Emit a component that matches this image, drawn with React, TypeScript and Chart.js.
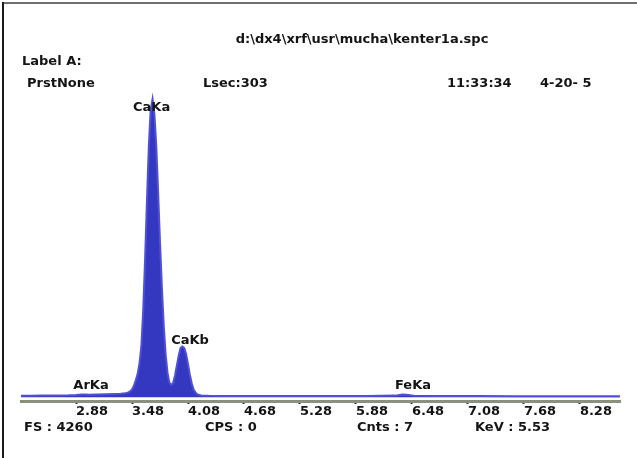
import React, { useEffect, useRef } from "react";
import { Chart, registerables } from "chart.js";

Chart.register(...registerables);

// Spectrum (energy in keV, counts)
const energyKeV = [
  2.29, 2.4, 2.5, 2.6, 2.7, 2.8, 2.88, 2.94, 2.98, 3.02, 3.1, 3.2, 3.3, 3.36,
  3.4, 3.42, 3.44, 3.46, 3.48, 3.5, 3.52, 3.54, 3.56, 3.58, 3.6, 3.62, 3.64,
  3.66, 3.68, 3.7, 3.72, 3.74, 3.76, 3.78, 3.8, 3.82, 3.84, 3.86, 3.88, 3.9,
  3.92, 3.94, 3.96, 3.98, 4.0, 4.02, 4.04, 4.06, 4.08, 4.1, 4.12, 4.14, 4.16,
  4.18, 4.22, 4.3, 4.5, 4.8, 5.2, 5.6, 6.0, 6.3, 6.38, 6.42, 6.5, 6.8, 7.2,
  7.6, 8.0, 8.4, 8.71,
];
const counts = [
  18, 18, 20, 20, 22, 24, 28, 34, 36, 32, 34, 38, 42, 46,
  50, 55, 62, 75, 100, 150, 220, 300, 440, 660, 1140, 1800, 2560,
  3270, 3740, 3880, 3680, 3270, 2660, 2010, 1430, 930, 560, 320, 190, 160,
  180, 280, 410, 540, 640, 660, 640, 560, 430, 290, 180, 100, 60,
  35, 22, 18, 16, 15, 15, 14, 15, 20, 34, 30, 18, 14, 14,
  13, 13, 12, 12,
];

const tickValues = [2.88, 3.48, 4.08, 4.68, 5.28, 5.88, 6.48, 7.08, 7.68, 8.28];
const tickLabels = ["2.88", "3.48", "4.08", "4.68", "5.28", "5.88", "6.48", "7.08", "7.68", "8.28"];

const peakNames = ["ArKa", "CaKa", "CaKb", "FeKa"];
const peakEnergies = [2.96, 3.69, 4.01, 6.4];

const fileTitle = "d:\\dx4\\xrf\\usr\\mucha\\kenter1a.spc";
const labelLine = "Label A:";
const infoTexts = ["PrstNone", "Lsec:303", "11:33:34", "4-20- 5"];
const statusTexts = ["FS : 4260", "CPS : 0", "Cnts : 7", "KeV : 5.53"];

const FAMILY = '"DejaVu Sans", "Liberation Sans", sans-serif';
const FONT = `bold 13px ${FAMILY}`;

const overlayPlugin = {
  id: "overlay",
  beforeDraw(chart: any) {
    const ctx = chart.ctx;
    ctx.save();
    ctx.fillStyle = "#ffffff";
    ctx.fillRect(0, 0, chart.width, chart.height);
    ctx.fillStyle = "#707070";
    ctx.fillRect(2, 2, chart.width - 2, 2);
    ctx.fillStyle = "#1a1a1a";
    ctx.fillRect(2, 2, 2, chart.height - 2);
    ctx.restore();
  },
  afterDraw(chart: any) {
    const ctx = chart.ctx;
    const xs = chart.scales.x;
    ctx.save();
    ctx.font = FONT;
    ctx.fillStyle = "#141414";
    ctx.textBaseline = "middle";

    ctx.textAlign = "center";
    ctx.fillText(fileTitle, 362, 40);

    ctx.textAlign = "left";
    ctx.fillText(labelLine, 22, 62);
    const infoX = [27, 203, 447, 540];
    infoTexts.forEach((t, i) => ctx.fillText(t, infoX[i], 84));
    const statusX = [24, 205, 357, 475];
    statusTexts.forEach((t, i) => ctx.fillText(t, statusX[i], 428));

    // peak identification labels, anchored on the line energies
    const dx = [7.5, 0, 8.5, 8.5];
    const ly = [386, 108, 341, 386];
    ctx.textAlign = "center";
    peakNames.forEach((name, i) => {
      const px = xs.getPixelForValue(peakEnergies[i]) + dx[i];
      ctx.fillText(name, px, ly[i]);
    });
    ctx.restore();
  },
};

export default function App() {
  const canvasRef = useRef<HTMLCanvasElement | null>(null);

  useEffect(() => {
    document.body.style.margin = "0";
    document.body.style.overflow = "hidden";
    const canvas = canvasRef.current;
    if (!canvas) return;
    const data = energyKeV.map((e, i) => ({ x: e, y: counts[i] }));
    const chart = new Chart(canvas, {
      type: "line",
      data: {
        datasets: [
          {
            data,
            borderColor: "rgb(80,80,214)",
            backgroundColor: "rgb(52,56,192)",
            borderWidth: 2,
            pointRadius: 0,
            fill: "origin",
            tension: 0,
          },
        ],
      },
      options: {
        responsive: false,
        animation: false,
        events: [],
        layout: { padding: { left: 21, right: 17, top: 70, bottom: 0 } },
        plugins: {
          legend: { display: false },
          tooltip: { enabled: false },
          title: { display: false },
        },
        scales: {
          x: {
            type: "linear",
            min: 2.29,
            max: 8.71,
            afterBuildTicks: (scale: any) => {
              scale.ticks = tickValues.map((v) => ({ value: v }));
            },
            afterFit: (scale: any) => {
              scale.height = 57;
            },
            grid: {
              display: true,
              drawOnChartArea: false,
              drawTicks: true,
              tickLength: 3,
              tickWidth: 2,
              tickColor: "#2a2a2a",
            },
            border: { display: true, color: "rgb(135,145,125)", width: 3 },
            ticks: {
              autoSkip: false,
              maxRotation: 0,
              minRotation: 0,
              align: "start",
              padding: 0,
              color: "#141414",
              font: { family: FAMILY, size: 13, weight: "bold" },
              callback: (_v: any, i: number) => tickLabels[i],
            },
          },
          y: {
            display: false,
            min: -50,
            max: 4260,
          },
        },
      },
      plugins: [overlayPlugin],
    });
    return () => chart.destroy();
  }, []);

  return <canvas ref={canvasRef} width={637} height={458} style={{ display: "block" }} />;
}
